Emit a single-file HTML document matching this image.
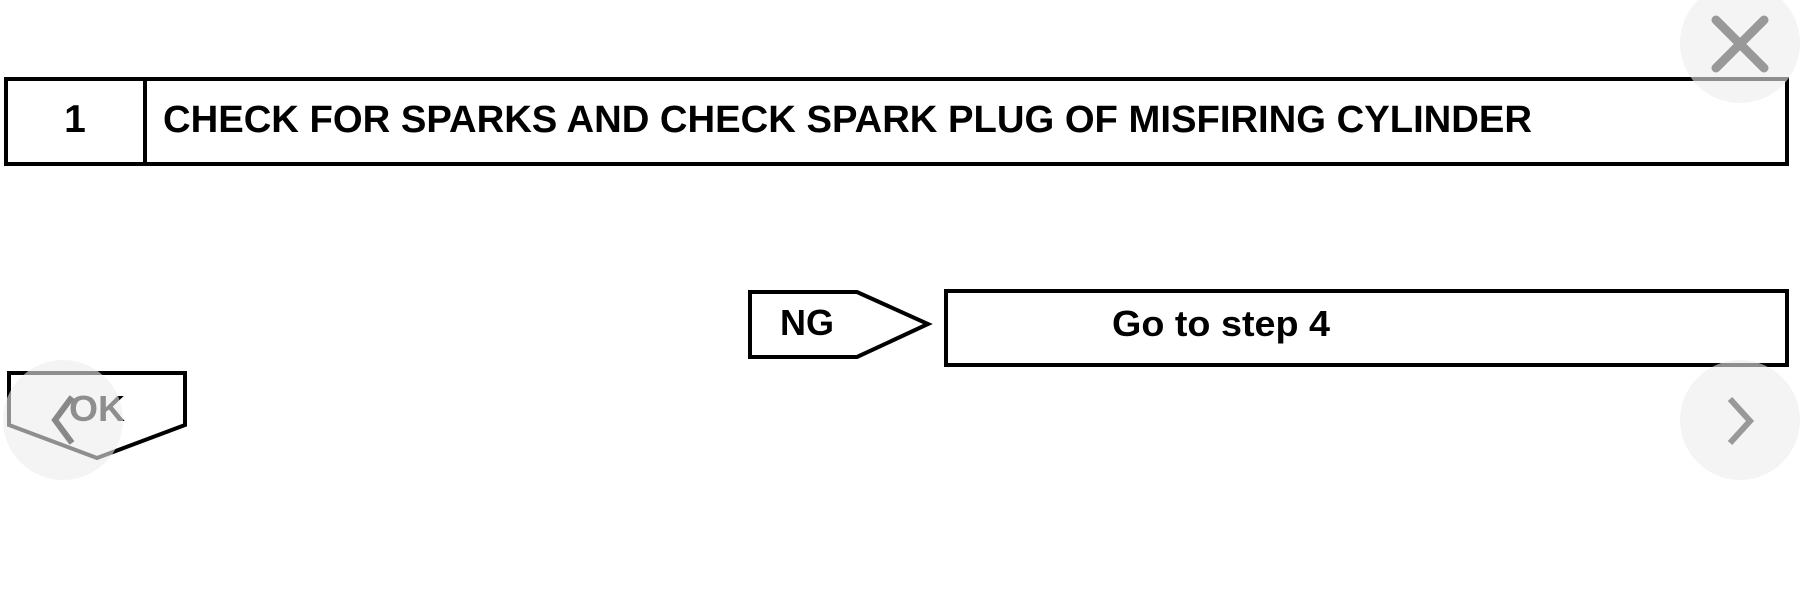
<!DOCTYPE html>
<html><head><meta charset="utf-8"><style>
html,body{margin:0;padding:0;background:#fff;width:1807px;height:610px;overflow:hidden}
svg{display:block}
text{font-family:"Liberation Sans",Arial,sans-serif;font-weight:bold;fill:#000}
</style></head><body>
<svg width="1807" height="610" viewBox="0 0 1807 610" xmlns="http://www.w3.org/2000/svg">
<rect x="6" y="79" width="1781" height="85" fill="none" stroke="#000" stroke-width="4"/>
<line x1="145" y1="79" x2="145" y2="164" stroke="#000" stroke-width="4"/>
<text x="75" y="132" font-size="39" text-anchor="middle">1</text>
<text x="163" y="132" font-size="38" textLength="1369" lengthAdjust="spacingAndGlyphs">CHECK FOR SPARKS AND CHECK SPARK PLUG OF MISFIRING CYLINDER</text>

<polygon points="750,292 857,292 928,324 857,357 750,357" fill="none" stroke="#000" stroke-width="4"/>
<text x="780" y="335" font-size="36" textLength="54" lengthAdjust="spacingAndGlyphs">NG</text>
<rect x="946" y="291" width="841" height="74" fill="none" stroke="#000" stroke-width="4"/>
<text x="1112" y="336" font-size="36" textLength="218" lengthAdjust="spacingAndGlyphs">Go to step 4</text>

<polygon points="9,373 185,373 185,425 97,458 9,425" fill="none" stroke="#000" stroke-width="4"/>
<text x="69" y="421" font-size="36" textLength="56" lengthAdjust="spacingAndGlyphs">OK</text>

<circle cx="1740" cy="43" r="60" fill="rgba(236,236,236,0.6)"/>
<path d="M1716 20 L1764 68 M1764 20 L1716 68" stroke="#999" stroke-width="9" stroke-linecap="round"/>
<circle cx="63" cy="420" r="60" fill="rgba(236,236,236,0.6)"/>
<path d="M72 397 L55 420 L72 443" stroke="#888" stroke-width="6" fill="none"/>
<circle cx="1740" cy="420" r="60" fill="rgba(236,236,236,0.6)"/>
<path d="M1730 399 L1750 421 L1730 443" stroke="#999" stroke-width="6" fill="none"/>
</svg>
</body></html>
